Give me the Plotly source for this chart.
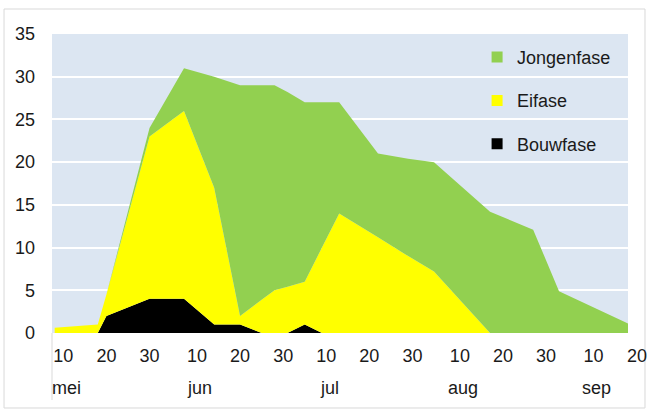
import datetime as dt
import plotly.graph_objects as go

# ---- data ----
dates = ["2020-05-08", "2020-05-18", "2020-05-20", "2020-05-30", "2020-06-07",
         "2020-06-14", "2020-06-20", "2020-06-25", "2020-06-28", "2020-07-01",
         "2020-07-05", "2020-07-09", "2020-07-13", "2020-07-22", "2020-07-29",
         "2020-08-04", "2020-08-17", "2020-08-27", "2020-09-02", "2020-09-18"]
bouwfase   = [0, 0, 2, 4, 4, 1, 1, 0, 0, 0, 1, 0, 0, 0, 0, 0, 0, 0, 0, 0]
eifase     = [0.6, 1, 2.5, 19, 22, 16, 1, 3.9, 5, 5.4, 5, 10, 14, 11.2, 9, 7.2, 0, 0, 0, 0]
jongenfase = [0, 0, 0, 1, 5, 13, 27, 25.1, 24, 22.8, 21, 17, 13, 9.8, 11.4, 12.8, 14.2, 12.1, 4.9, 1.1]

series_names = ["Bouwfase", "Eifase", "Jongenfase"]
series_colors = ["#000000", "#FFFF00", "#92D050"]
series_values = [bouwfase, eifase, jongenfase]

tick_dates = ["2020-05-10", "2020-05-20", "2020-05-30",
              "2020-06-10", "2020-06-20", "2020-06-30",
              "2020-07-10", "2020-07-20", "2020-07-30",
              "2020-08-10", "2020-08-20", "2020-08-30",
              "2020-09-10"]
tick_labels = ["10", "20", "30", "10", "20", "30", "10", "20", "30",
               "10", "20", "30", "10"]
extra_tick_date = "2020-09-20"
extra_tick_label = "20"
month_dates = ["2020-05-10", "2020-06-10", "2020-07-10", "2020-08-10", "2020-09-10"]
month_labels = ["mei", "jun", "jul", "aug", "sep"]

x_range = ["2020-05-07 09:00", "2020-09-18 00:00"]

FONT = "Liberation Sans, Arial, sans-serif"
TXT = "#1a1a1a"
FS = 18

fig = go.Figure()
for name, col, vals in zip(series_names, series_colors, series_values):
    fig.add_trace(go.Scatter(x=dates, y=vals, name=name, mode="none",
                             stackgroup="one", fillcolor=col,
                             showlegend=False, hoverinfo="x+y+name"))

# legend entries (square swatches), top to bottom
for name, col, grp in [("Jongenfase", "#92D050", "j"), ("Eifase", "#FFFF00", "e"),
                       ("Bouwfase", "#000000", "b")]:
    fig.add_trace(go.Scatter(x=[None], y=[None], mode="markers", name=name,
                             legendgroup=grp,
                             marker=dict(symbol="square", size=11, color=col)))

annotations = []
for d, lab in zip(month_dates, month_labels):
    annotations.append(dict(x=d, y=-0.184, xref="x", yref="paper", text=lab,
                            showarrow=False, xanchor="center", yanchor="middle",
                            xshift=3, font=dict(family=FONT, size=FS, color=TXT)))

# last tick label lies just beyond the axis end: place it by the axis scale fraction
fmt = "%Y-%m-%d %H:%M"
r0 = dt.datetime.strptime(x_range[0], fmt)
r1 = dt.datetime.strptime(x_range[1], fmt)
xt = dt.datetime.strptime(extra_tick_date, "%Y-%m-%d")
frac = (xt - r0).total_seconds() / (r1 - r0).total_seconds()
annotations.append(dict(x=frac, y=-0.077, xref="paper", yref="paper",
                        text=extra_tick_label, showarrow=False, xanchor="center",
                        yanchor="middle", font=dict(family=FONT, size=FS, color=TXT)))

fig.update_layout(
    width=647, height=412,
    margin=dict(l=52, r=19, t=34, b=79),
    paper_bgcolor="white",
    plot_bgcolor="#DCE6F2",
    font=dict(family=FONT, size=FS, color=TXT),
    showlegend=True,
    legend=dict(x=0.738, y=0.984, xanchor="left", yanchor="top",
                bgcolor="rgba(0,0,0,0)", font=dict(family=FONT, size=FS, color=TXT),
                traceorder="grouped", tracegroupgap=17, itemwidth=30),
    xaxis=dict(type="date", range=x_range,
               tickmode="array", tickvals=tick_dates, ticktext=tick_labels,
               showgrid=False, zeroline=False, showline=False, ticks="",
               ticklabelstandoff=10, tickfont=dict(family=FONT, size=FS, color=TXT)),
    yaxis=dict(range=[0, 35], dtick=5, tick0=0, showgrid=True, gridcolor="white",
               gridwidth=2, zeroline=False, showline=False, ticks="",
               ticklabelstandoff=16, tickfont=dict(family=FONT, size=FS, color=TXT)),
    annotations=annotations,
    shapes=[
        dict(type="rect", xref="paper", yref="paper", x0=-0.0833, x1=1.0295,
             y0=-0.2508, y1=1.0836, line=dict(color="#d9d9d9", width=1),
             fillcolor="rgba(0,0,0,0)", layer="below"),
        dict(type="line", xref="paper", yref="paper", x0=0, x1=0, y0=0, y1=-0.224,
             line=dict(color="#d9d9d9", width=1)),
    ],
)

fig.write_html("out.html", config={"displayModeBar": False},
               post_script="document.body.style.margin='0';document.body.style.padding='0';")
